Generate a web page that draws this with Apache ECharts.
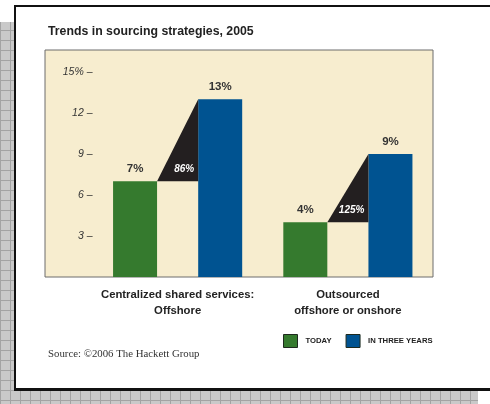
<!DOCTYPE html>
<html><head><meta charset="utf-8">
<script src="https://cdn.jsdelivr.net/npm/echarts@6/dist/echarts.min.js"></script>
<style>html,body{margin:0;padding:0;background:#fff}#c{width:490px;height:404px}</style>
</head><body><div id="c"></div>
<script>
// ---- data ----
const groups = ['Centralized shared services:\nOffshore', 'Outsourced\noffshore or onshore'];
const today = [7, 4];
const inThreeYears = [13, 9];
const growth = ['86%', '125%'];
const seriesNames = ['TODAY', 'IN THREE YEARS'];
const yTicks = [3, 6, 9, 12, 15];

// ---- derived slot data (one slot per bar) ----
const slots = [];
const todaySlots = [], futureSlots = [], triData = [];
groups.forEach((g, i) => {
  slots.push(g + ' today', g + ' future');
  todaySlots.push(today[i], '-');
  futureSlots.push('-', inThreeYears[i]);
  triData.push([2 * i, 2 * i + 1, today[i], inThreeYears[i], growth[i]]);
});

const FONT = '"Liberation Sans", Arial, sans-serif';
const GREEN = '#357A2E', BLUE = '#005391', BEIGE = '#F7EDCF';
const BAR_W = 44;

// grey grid pattern for decorative frame
const pc = document.createElement('canvas');
pc.width = 10; pc.height = 10;
const px = pc.getContext('2d');
px.fillStyle = '#c9c9c9'; px.fillRect(0, 0, 10, 10);
px.fillStyle = '#a3a3a3'; px.fillRect(0, 0, 1, 10); px.fillRect(0, 0, 10, 1);
const pattern = { image: pc, repeat: 'repeat' };

const chart = echarts.init(document.getElementById('c'), null, { renderer: 'canvas' });
chart.setOption({
  backgroundColor: '#fff',
  animation: false,
  title: {
    text: 'Trends in sourcing strategies, 2005',
    left: 43, top: 21,
    textStyle: { fontFamily: FONT, fontSize: 12.3, fontWeight: 'bold', color: '#222' }
  },
  graphic: [
    { type: 'rect', shape: { x: 0, y: 22, width: 14, height: 382 }, style: { fill: pattern }, silent: true },
    { type: 'rect', shape: { x: 0, y: 391, width: 478, height: 13 }, style: { fill: pattern }, silent: true },
    { type: 'line', shape: { x1: 14, y1: 6, x2: 490, y2: 6 }, style: { stroke: '#111', lineWidth: 2 } },
    { type: 'line', shape: { x1: 15, y1: 5, x2: 15, y2: 391 }, style: { stroke: '#111', lineWidth: 2 } },
    { type: 'line', shape: { x1: 14, y1: 389.5, x2: 490, y2: 389.5 }, style: { stroke: '#111', lineWidth: 3 } },
    { type: 'text', left: 48, top: 349, style: { text: 'Source: ©2006 The Hackett Group', font: '10.8px "Liberation Serif", serif', fill: '#333' } }
  ],
  legend: {
    data: seriesNames,
    left: 278, top: 329,
    icon: 'rect', itemWidth: 14, itemHeight: 13, itemGap: 14,
    itemStyle: { borderColor: '#1e2a1e', borderWidth: 1 },
    textStyle: { fontFamily: FONT, fontSize: 7.7, fontWeight: 'bold', color: '#222', padding: [0, 0, 0, 3] }
  },
  grid: [
    { left: 45, right: 57, top: 50, bottom: 127, show: true, backgroundColor: BEIGE, borderColor: '#6d6d6d', borderWidth: 1 },
    { left: 92.5, right: 57, top: 50, bottom: 127 }
  ],
  xAxis: [
    { gridIndex: 0, type: 'value', show: false },
    { gridIndex: 1, type: 'category', data: slots, axisLine: { show: false }, axisTick: { show: false }, axisLabel: { show: false } },
    { gridIndex: 1, type: 'category', data: groups, position: 'bottom', axisLine: { show: false }, axisTick: { show: false },
      axisLabel: { interval: 0, margin: 10, fontFamily: FONT, fontSize: 11.3, fontWeight: 'bold', color: '#222', lineHeight: 16 } }
  ],
  yAxis: [
    { gridIndex: 0, type: 'value', show: false, min: 0, max: 16.6 },
    { gridIndex: 1, type: 'value', min: 0, max: 16.6, interval: 3,
      axisLine: { show: false }, axisTick: { show: false }, splitLine: { show: false },
      axisLabel: { margin: 0, fontFamily: FONT, fontSize: 10.5, fontStyle: 'italic', color: '#333',
        formatter: v => (yTicks.indexOf(v) < 0 ? '' : (v === 15 ? '15% –' : v + ' –')) } }
  ],
  series: [
    { name: seriesNames[0], type: 'bar', xAxisIndex: 1, yAxisIndex: 1, data: todaySlots, barWidth: BAR_W, barGap: '-100%',
      itemStyle: { color: GREEN },
      label: { show: true, position: 'top', distance: 6, formatter: '{c}%', fontFamily: FONT, fontSize: 11.5, fontWeight: 'bold', color: '#333' } },
    { name: seriesNames[1], type: 'bar', xAxisIndex: 1, yAxisIndex: 1, data: futureSlots, barWidth: BAR_W, barGap: '-100%',
      itemStyle: { color: BLUE },
      label: { show: true, position: 'top', distance: 6, formatter: '{c}%', fontFamily: FONT, fontSize: 11.5, fontWeight: 'bold', color: '#333' } },
    { type: 'custom', xAxisIndex: 1, yAxisIndex: 1, data: triData, z: 3,
      renderItem: (params, api) => {
        const g = api.coord([api.value(0), api.value(2)]);
        const b = api.coord([api.value(1), api.value(3)]);
        const x1 = g[0] + BAR_W / 2, x2 = b[0] - BAR_W / 2;
        return {
          type: 'group',
          children: [
            { type: 'polygon', shape: { points: [[x1, g[1]], [x2, b[1]], [x2, g[1]]] }, style: { fill: '#231F20' } },
            { type: 'text', style: { text: triData[params.dataIndex][4], x: x2 - 4, y: g[1] - 7, align: 'right', verticalAlign: 'bottom',
              font: 'italic bold 10px ' + FONT, fill: '#fff' } }
          ]
        };
      } }
  ]
});
</script></body></html>
